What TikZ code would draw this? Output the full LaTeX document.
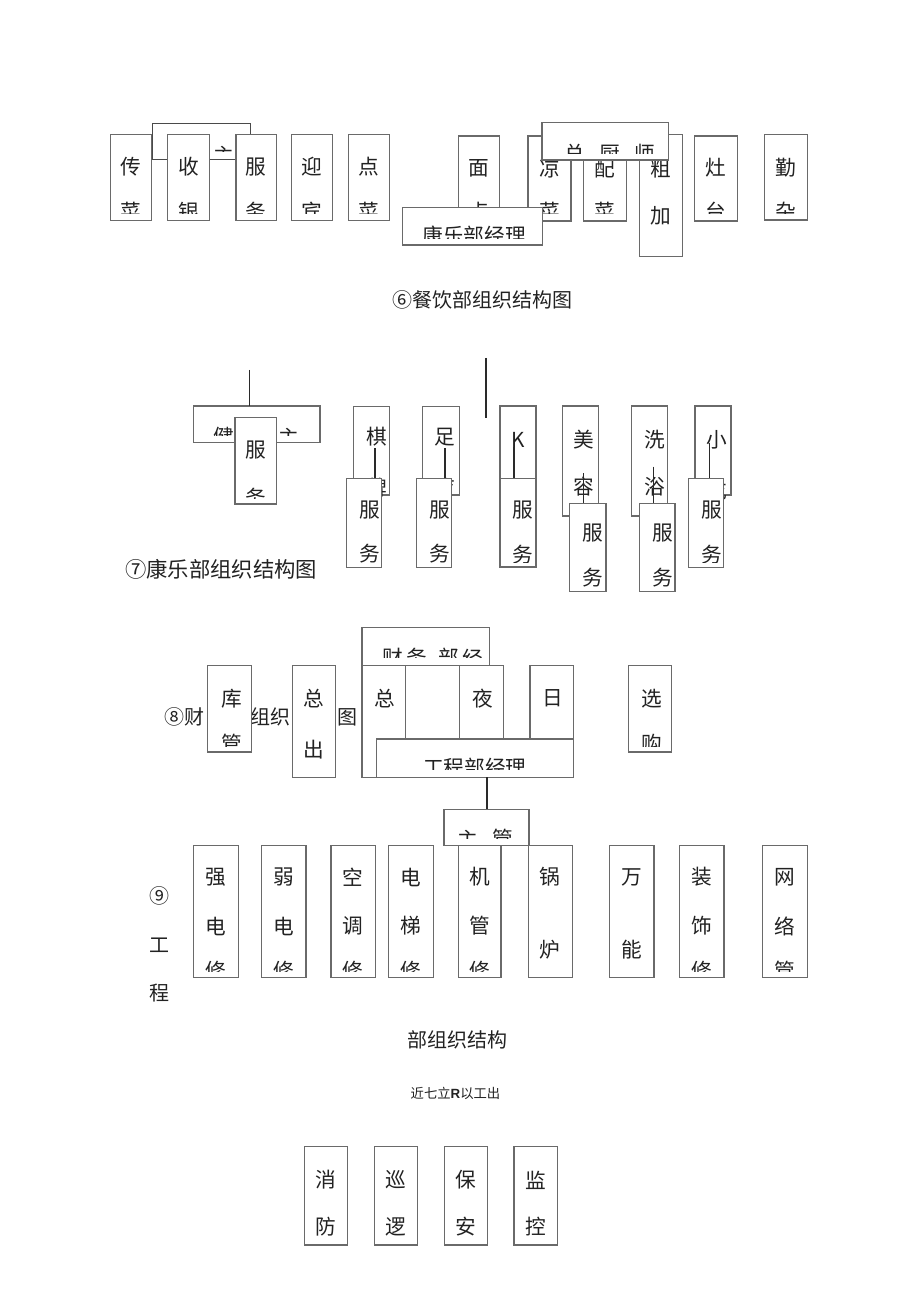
\documentclass[tikz,border=0pt]{standalone}
\usepackage{fontspec}
\newfontfamily\cjk{Noto Sans CJK SC}
\newfontfamily\lsans{Liberation Sans}
\definecolor{bxc}{HTML}{6A6A6A}
\definecolor{lnc}{HTML}{2A2A2A}
\definecolor{txc}{HTML}{222222}
\tikzset{
 bx/.style={draw=bxc, fill=white, line width=0.9pt, inner sep=0pt, outer sep=0pt},
 bxd/.style={bx, draw=lnc!85},
 ch/.style={font=\cjk\fontsize{15.5}{17}\selectfont, text=txc, inner sep=0pt},
 captxt/.style={font=\cjk\fontsize{15}{17}\selectfont, text=txc, inner sep=0pt},
 capbig/.style={font=\cjk\fontsize{16}{18}\selectfont, text=txc, inner sep=0pt},
 smalltxt/.style={font=\cjk\fontsize{10}{12}\selectfont, text=txc, inner sep=0pt},
 conn/.style={draw=lnc, line width=1pt},
}
\newcommand\bxn[6][bx]{\node[#1, anchor=north west, minimum width={(#5-#3)*0.75pt}, minimum height={(#6-#4)*0.75pt}] (#2) at (#3,#4) {};}
\newcommand\txn[5][ch]{\node[#1] (#2) at (#3,#4) {#5};}
\newcommand\ctxn[6][ch]{\begin{scope}\clip (#3-13,#4-24) rectangle (#3+13,#6); \node[#1] (#2) at (#3,#4-2) {#5};\end{scope}}
\newcommand\cwtn[6][ch]{\begin{scope}\clip (#3-70,#4-24) rectangle (#3+70,#6); \node[#1] (#2) at (#3,#4-2) {#5};\end{scope}}
\begin{document}
\begin{tikzpicture}[x=0.75pt,y=-0.75pt]
\useasboundingbox[fill=white] (0,0) rectangle (920,1301);

% ---------- section 6 ----------
\bxn[bxd]{c6top}{152.3}{123.3}{250.7}{159.3}
\ctxn{t6top}{224}{157}{主}{152}
\bxn{c6a}{110.7}{134.3}{151.7}{220.7}\txn{t6a1}{131.2}{167}{传}\ctxn{t6a2}{131.2}{214}{菜}{214}
\bxn{c6b}{167.7}{134.3}{209.3}{220.7}\txn{t6b1}{188.5}{167}{收}\ctxn{t6b2}{188.5}{214}{银}{214}
\bxn{c6c}{236}{134.3}{276.7}{220.7}\txn{t6c1}{256.3}{167}{服}\ctxn{t6c2}{256.3}{214}{务}{214}
\bxn{c6d}{291.7}{134.3}{332.3}{220.7}\txn{t6d1}{312}{167}{迎}\ctxn{t6d2}{312}{214}{宾}{214}
\bxn{c6e}{348.3}{134.3}{389.3}{220.7}\txn{t6e1}{368.8}{167}{点}\ctxn{t6e2}{368.8}{214}{菜}{214}
\bxn{c6f}{458.7}{136}{499.3}{221}\txn{t6f1}{479}{168}{面}\ctxn{t6f2}{479}{214}{点}{214}
\bxn{c6g}{528}{136}{571}{221}\txn{t6g1}{549.5}{169}{凉}\ctxn{t6g2}{549.5}{214}{菜}{214}
\bxn{c6h}{583.3}{136}{626.7}{221}\txn{t6h1}{605}{169}{配}\ctxn{t6h2}{605}{214}{菜}{214}
\bxn{c6i}{639.3}{134.7}{682.3}{256.7}\txn{t6i1}{660.8}{169}{粗}\txn{t6i2}{660.8}{216}{加}
\bxn{c6chef}{542}{122.7}{668.3}{160}
\ctxn{t6k1}{575}{156}{总}{154}\ctxn{t6k2}{610}{156}{厨}{154}\ctxn{t6k3}{645}{156}{师}{154}
\bxn{c6mgr}{402.7}{207.3}{542.7}{245}
\cwtn{t6mgr}{474}{238}{康乐部经理}{239}
\bxn{c6j}{694.3}{136}{737.7}{221}\txn{t6j1}{716}{168}{灶}\ctxn{t6j2}{716}{214}{台}{214}
\bxn{c6l}{764.3}{134.7}{807.3}{220}\txn{t6l1}{785.8}{168}{勤}\ctxn{t6l2}{785.8}{214}{杂}{214}
\txn[captxt]{cap6}{482.5}{300}{⑥餐饮部组织结构图}

% ---------- section 7 ----------
\coordinate (v7a) at (249.3,370);
\bxn{c7top}{193.3}{406}{320}{442.7}
\draw[conn] (v7a) -- (v7a |- c7top.north);
\ctxn{t7top1}{224}{439}{健}{435}\ctxn{t7top2}{289}{439}{主}{435}
\bxn{c7f0}{235}{417.7}{276.7}{504}\txn{t7f0a}{255.8}{450}{服}\ctxn{t7f0b}{255.8}{500}{务}{498}

\bxn{c7a}{353.3}{406.7}{389.3}{495}\txn{t7a1}{376.7}{437}{棋}\txn{t7a2}{376.7}{488}{牌}
\coordinate (q7a) at (375,448);
\bxn{c7fa}{346.7}{478.3}{381.7}{567.3}
\draw[conn] (q7a) -- (q7a |- c7fa.north);
\txn{t7fa1}{370}{510}{服}\ctxn{t7fa2}{370}{556}{务}{562}

\bxn{c7b}{422.7}{406.7}{459.3}{495}\txn{t7b1}{445}{437}{足}\txn{t7b2}{445}{488}{疗}
\coordinate (q7b) at (445,448);
\bxn{c7fb}{416.7}{478.3}{451.7}{567.3}
\draw[conn] (q7b) -- (q7b |- c7fb.north);
\txn{t7fb1}{440}{510}{服}\ctxn{t7fb2}{440}{556}{务}{562}

\coordinate (v7b) at (486,358);
\coordinate (v7c) at (486,418.3);
\draw[conn] (v7b) -- (v7c);

\bxn{c7c}{500}{406}{536}{495}\txn{t7c1}{518.3}{440}{K}
\coordinate (q7c) at (514,446.7);
\bxn{c7fc}{500}{478.3}{536}{567}
\draw[conn] (q7c) -- (q7c |- c7fc.north);
\txn{t7fc1}{523.3}{510}{服}\ctxn{t7fc2}{523.3}{556.7}{务}{562}

\bxn{c7d}{562.7}{406}{598.3}{516}\txn{t7d1}{584}{440}{美}\txn{t7d2}{584}{486.7}{容}
\coordinate (q7d) at (583.3,473);
\bxn{c7fd}{569.3}{503.3}{606}{591.7}
\draw[conn] (q7d) -- (q7d |- c7fd.north);
\txn{t7fd1}{593.3}{533.3}{服}\ctxn{t7fd2}{593.3}{580}{务}{586}

\bxn{c7e}{631.7}{406}{667.7}{516}\txn{t7e1}{655}{440}{洗}\txn{t7e2}{655}{486.7}{浴}
\coordinate (q7e) at (653.3,466.7);
\bxn{c7fe}{639.3}{503.3}{675}{591.7}
\draw[conn] (q7e) -- (q7e |- c7fe.north);
\txn{t7fe1}{662.7}{533.3}{服}\ctxn{t7fe2}{662.7}{580}{务}{586}

\bxn{c7f}{695}{406}{731}{495}\txn{t7f1}{717.3}{440}{小}\txn{t7f2}{717.3}{490}{吃}
\coordinate (q7f) at (709.3,443.3);
\bxn{c7ff}{688.3}{478.3}{723.3}{567.3}
\draw[conn] (q7f) -- (q7f |- c7ff.north);
\txn{t7ff1}{711.7}{510}{服}\ctxn{t7ff2}{711.7}{556.7}{务}{562}

\txn[capbig]{cap7}{221}{569.3}{⑦康乐部组织结构图}

% ---------- section 8 ----------
\txn[captxt]{t8a}{184}{717}{⑧财}
\txn[captxt]{t8b}{270.8}{717}{组织}
\txn[captxt]{t8c}{347.3}{717}{图}
\bxn{c8a}{207.8}{665.2}{251.4}{752}\txn{t8a1}{231.6}{698.2}{库}\ctxn{t8a2}{231.6}{746}{管}{746}
\bxn{c8b}{292.2}{665.2}{335.4}{777.1}\txn{t8b1}{313.8}{698.2}{总}\txn{t8b2}{313.8}{749.3}{出}
\bxn{c8top}{361.9}{627.5}{489.5}{690}
\ctxn{t8t1}{393.2}{660}{财}{657}\ctxn{t8t2}{417}{660}{务}{657}\ctxn{t8t3}{449.3}{660}{部}{657}\ctxn{t8t4}{473.1}{660}{经}{657}
\bxn{c8c}{361.9}{665.2}{405.1}{777.1}\txn{t8c1}{384.7}{698.2}{总}
\bxn{c8d}{405.1}{665.2}{459.5}{777.1}
\bxn{c8e}{459.5}{665.2}{503.1}{777.1}\txn{t8e1}{483.3}{698.2}{夜}
\bxn{c8f}{529.9}{665.2}{573.5}{777.1}\txn{t8f1}{553}{698.2}{日}
\bxn{c8g}{628.6}{665.2}{671.1}{752}\txn{t8g1}{651.7}{698.2}{选}\ctxn{t8g2}{651.7}{746}{购}{746}
\bxn{c8mgr}{376.2}{739}{573.5}{777.1}
\cwtn{t8mgr}{474.8}{770}{工程部经理}{769}

% ---------- section 9 ----------
\bxn{c9top}{444}{809.3}{529}{845.7}
\coordinate (g8) at (487,777.1);
\draw[conn] (g8) -- (g8 |- c9top.north);
\ctxn{t9top1}{468}{841}{主}{838}\ctxn{t9top2}{503}{841}{管}{838}
\bxn{c9a}{193.3}{845.7}{238.3}{977.7}\txn{t9a1}{215.8}{877}{强}\txn{t9a2}{215.8}{926}{电}\ctxn{t9a3}{215.8}{973}{修}{971}
\bxn{c9b}{261.7}{845.7}{306}{977.7}\txn{t9b1}{283.9}{877}{弱}\txn{t9b2}{283.9}{926}{电}\ctxn{t9b3}{283.9}{973}{修}{971}
\bxn{c9c}{331}{845.7}{375.3}{977.7}\txn{t9c1}{353.2}{877}{空}\txn{t9c2}{353.2}{926}{调}\ctxn{t9c3}{353.2}{973}{修}{971}
\bxn{c9d}{388.7}{845.7}{433.3}{977.7}\txn{t9d1}{411}{877}{电}\txn{t9d2}{411}{926}{梯}\ctxn{t9d3}{411}{973}{修}{971}
\bxn{c9e}{458.3}{845.7}{501}{977.7}\txn{t9e1}{479.7}{877}{机}\txn{t9e2}{479.7}{926}{管}\ctxn{t9e3}{479.7}{973}{修}{971}
\bxn{c9f}{528.3}{845.7}{572.3}{977.7}\txn{t9f1}{550.3}{877}{锅}\txn{t9f2}{550.3}{950}{炉}
\bxn{c9g}{609.3}{845.7}{654}{977.7}\txn{t9g1}{631.7}{877}{万}\txn{t9g2}{631.7}{950}{能}
\bxn{c9h}{679.3}{845.7}{724}{977.7}\txn{t9h1}{701.7}{877}{装}\txn{t9h2}{701.7}{926}{饰}\ctxn{t9h3}{701.7}{973}{修}{971}
\bxn{c9i}{762.7}{845.7}{807.3}{977.7}\txn{t9i1}{785}{877}{网}\txn{t9i2}{785}{926}{络}\ctxn{t9i3}{785}{973}{管}{971}
\txn[captxt]{t9l1}{159}{895.7}{⑨}
\txn[captxt]{t9l2}{159}{945.7}{工}
\txn[captxt]{t9l3}{159}{993.3}{程}
\txn[captxt]{cap9}{457.5}{1040}{部组织结构}
\txn[smalltxt]{t9note}{455.5}{1093}{近七立{\lsans\bfseries R}以工出}

% ---------- section 10 ----------
\bxn{c10a}{304.3}{1146.7}{347.3}{1245}\txn{t10a1}{325.8}{1180}{消}\txn{t10a2}{325.8}{1226.7}{防}
\bxn{c10b}{374.3}{1146.7}{417.3}{1245}\txn{t10b1}{395.8}{1180}{巡}\txn{t10b2}{395.8}{1226.7}{逻}
\bxn{c10c}{444.3}{1146.7}{487.3}{1245}\txn{t10c1}{465.8}{1180}{保}\txn{t10c2}{465.8}{1226.7}{安}
\bxn{c10d}{514}{1146.7}{557.3}{1245}\txn{t10d1}{535.7}{1180}{监}\txn{t10d2}{535.7}{1226.7}{控}
\end{tikzpicture}
\end{document}
